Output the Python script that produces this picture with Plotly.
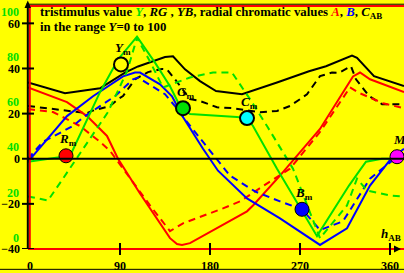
import plotly.graph_objects as go

# ---------------- data (hue angle h_AB in degrees, value) ----------------
cab_solid_h = [-2, 35, 70, 95, 108, 135, 143, 155, 170, 186, 212, 222, 247, 279, 296, 322, 327, 344, 374]
cab_solid_v = [33.8, 29.0, 31.2, 38.2, 40.9, 45.1, 45.4, 39.6, 34.4, 30.0, 28.6, 30.0, 33.8, 38.8, 41.0, 45.7, 44.7, 36.6, 32.2]

cab_dash_h = [-2, 35, 57, 62, 80, 88, 93, 105, 118, 132, 137, 145, 160, 170, 187, 203, 210, 230, 247, 260, 270, 277, 290, 302, 309, 321, 326, 339, 352, 374]
cab_dash_v = [23.4, 21.2, 20.2, 21.2, 23.4, 26.4, 27.8, 35.2, 38.4, 39.8, 39.6, 35.2, 26.4, 25.6, 22.8, 22.4, 22.0, 20.6, 21.2, 23.4, 26.4, 28.6, 36.6, 38.2, 38.1, 41.0, 35.2, 27.8, 24.2, 24.2]

y_solid_h = [-2, 33, 42, 70, 88, 107, 125, 140, 150, 160, 207, 217, 223, 247, 287, 319, 331, 336, 352, 374]
y_solid_v = [-1.3, 0.9, 3.1, 29.5, 44.0, 54.1, 42.6, 32.1, 23.3, 19.8, 18.5, 18.0, 14.5, -4.4, -34.3, -11.9, -4.4, -1.3, 0.0, 0.0]

y_dash_h = [-2, 18, 33, 55, 78, 97, 107, 120, 133, 160, 183, 202, 220, 237, 263, 290, 317, 327, 337, 360, 374]
y_dash_v = [-16.7, -18.5, -8.8, 5.7, 20.7, 38.7, 53.6, 43.1, 31.6, 36.0, 38.2, 38.2, 26.4, 14.5, -4.4, -35.2, -20.7, -8.8, -14.1, -16.3, -16.7]

a_solid_h = [-2, 37, 57, 77, 88, 110, 140, 147, 152, 160, 217, 223, 250, 290, 323, 330, 340, 374]
a_solid_v = [31.6, 25.1, 18.9, 10.1, 0.0, -15.4, -35.2, -37.8, -38.2, -37.4, -23.3, -20.7, -7.5, 13.2, 36.5, 38.2, 35.2, 29.5]

a_dash_h = [-2, 23, 50, 70, 80, 120, 140, 153, 193, 210, 240, 260, 290, 320, 330, 353, 374]
a_dash_v = [22.0, 20.7, 14.5, 7.5, 3.5, -20.7, -32.1, -28.6, -22.0, -18.9, -10.1, -4.4, 11.9, 31.6, 29.0, 24.6, 22.4]

b_solid_h = [-2, 3, 37, 63, 93, 105, 110, 130, 142, 153, 173, 188, 217, 250, 290, 317, 340, 353, 361, 374]
b_solid_v = [-0.9, 1.3, 18.9, 27.7, 36.5, 38.2, 38.2, 33.0, 27.7, 18.5, 4.4, -5.3, -17.6, -26.4, -38.2, -30.8, -11.9, -4.4, 0.0, 4.4]

b_dash_h = [-2, 13, 43, 55, 85, 103, 108, 135, 145, 153, 200, 225, 250, 272, 290, 313, 340, 353, 361, 374]
b_dash_v = [0.0, 7.5, 14.5, 18.9, 27.7, 35.2, 36.0, 28.6, 23.3, 18.5, -7.5, -14.5, -18.9, -22.4, -31.6, -27.7, -8.8, -4.4, -1.3, 2.2]

marker_names = ["R", "Y", "G", "C", "B", "M"]
marker_h = [36, 91, 153, 217, 272, 367]
marker_v = [1.3, 41.8, 22.4, 18.0, -22.4, 0.9]
marker_fill = ["#ff0000", "#ffff00", "#00e000", "#00ffff", "#0000ff", "#ff00ff"]
marker_edge = [1, 2, 2, 2, 1, 1]

x_ticks = [0, 90, 180, 270, 360]
y_ticks = [-40, -20, 0, 20, 40, 60]
y_ticktext = ["\u221240", "\u221220", "0", "20", "40", "60"]
green_ticks = [0, 20, 40, 60, 80, 100]
green_offset = -35.0

# ---------------- figure ----------------
W, H = 404, 273
ML, MR, MT, MB = 28, 0, 6, 22
PW, PH = W - ML - MR, H - MT - MB
FONT = "Liberation Serif"
GREEN = "#00e000"

def px(x):
    return (x - ML) / PW

def py(y):
    return (H - MB - y) / PH

fig = go.Figure()

curves = [
    (cab_solid_h, cab_solid_v, "black", "solid"),
    (cab_dash_h, cab_dash_v, "black", "7px,5px"),
    (a_solid_h, a_solid_v, "#ff0000", "solid"),
    (a_dash_h, a_dash_v, "#ff0000", "7px,5px"),
    (b_solid_h, b_solid_v, "#0000ff", "solid"),
    (b_dash_h, b_dash_v, "#0000ff", "7px,5px"),
    (y_solid_h, y_solid_v, GREEN, "solid"),
    (y_dash_h, y_dash_v, GREEN, "7px,5px"),
]
for hh, vv, col, dash in curves:
    fig.add_trace(go.Scatter(x=hh, y=vv, mode="lines",
                             line=dict(color=col, width=2, dash=dash),
                             hoverinfo="skip", showlegend=False))

fig.add_trace(go.Scatter(
    x=marker_h, y=marker_v, mode="markers",
    marker=dict(size=14, color=marker_fill,
                line=dict(color="black", width=marker_edge)),
    showlegend=False, hoverinfo="skip", cliponaxis=False))

shapes = []
shapes.append(dict(type="line", xref="paper", yref="y", x0=0, x1=1, y0=0, y1=0,
                   line=dict(color="black", width=2)))
shapes.append(dict(type="line", xref="paper", yref="paper", x0=px(29.8), x1=px(29.8),
                   y0=0, y1=1, line=dict(color="#ff0000", width=2)))
shapes.append(dict(type="line", xref="paper", yref="paper", x0=0, x1=1, y0=0, y1=0,
                   line=dict(color="#ff0000", width=2)))
shapes.append(dict(type="line", xref="paper", yref="paper", x0=px(28), x1=1,
                   y0=py(4.2), y1=py(4.2), line=dict(color="black", width=1)))
shapes.append(dict(type="line", xref="paper", yref="paper", x0=px(28), x1=1,
                   y0=1, y1=1, line=dict(color="#ff0000", width=2)))
shapes.append(dict(type="line", xref="paper", yref="paper", x0=px(27.8), x1=px(27.8),
                   y0=0, y1=py(3), line=dict(color="black", width=2)))
shapes.append(dict(type="path", xref="paper", yref="paper",
                   path=f"M {px(24.5)} {py(8)} L {px(27.8)} {py(0.5)} L {px(31)} {py(8)} Z",
                   fillcolor="black", line=dict(width=0)))
shapes.append(dict(type="path", xref="paper", yref="paper",
                   path=f"M {px(394)} {py(247.5)} L {px(401)} {py(251)} L {px(394)} {py(254.5)} Z",
                   fillcolor="black", line=dict(width=0)))
shapes.append(dict(type="line", xref="paper", yref="paper", x0=px(0), x1=1,
                   y0=py(271.5), y1=py(271.5), line=dict(color="black", width=1)))
for t in y_ticks:
    shapes.append(dict(type="line", xref="paper", yref="y", x0=px(22), x1=px(34),
                       y0=t, y1=t, line=dict(color="black", width=2)))
for t in x_ticks[1:]:
    shapes.append(dict(type="line", xref="x", yref="paper", x0=t, x1=t,
                       y0=py(245), y1=py(257), line=dict(color="black", width=2)))

annotations = []
annotations.append(dict(
    xref="paper", yref="paper", x=px(38), y=py(13), xanchor="left", yanchor="middle",
    showarrow=False, font=dict(family=FONT, size=12.8, color="black"),
    text=("<b>tristimulus value <i><span style='color:" + GREEN + "'>Y</span></i>, "
          "<i>RG</i> , <i>YB</i>, radial chromatic values "
          "<i><span style='color:#ff0000'>A</span></i>, "
          "<i><span style='color:#0000ff'>B</span></i>, <i>C</i><sub>AB</sub></b>")))
annotations.append(dict(
    xref="paper", yref="paper", x=px(38), y=py(27), xanchor="left", yanchor="middle",
    showarrow=False, font=dict(family=FONT, size=12.8, color="black"),
    text="<b>in the range <i>Y</i>=0 to 100</b>"))
for g in green_ticks:
    annotations.append(dict(
        xref="paper", yref="y", x=px(21), y=g + green_offset, xanchor="right",
        yanchor="middle", showarrow=False,
        font=dict(family=FONT, size=12, color=GREEN), text=f"<b>{g}</b>"))
for n, hh, vv in zip(marker_names, marker_h, marker_v):
    annotations.append(dict(
        xref="x", yref="y", x=hh, y=vv, xanchor="center", yanchor="middle",
        yshift=16, xshift=2 if n != "M" else 6, showarrow=False,
        font=dict(family=FONT, size=13, color="black"),
        text=f"<b><i>{n}</i><sub>m</sub></b>"))
annotations.append(dict(
    xref="paper", yref="paper", x=px(391), y=py(236), xanchor="center", yanchor="middle",
    showarrow=False, font=dict(family=FONT, size=13, color="black"),
    text="<b><i>h</i><sub>AB</sub></b>"))

fig.update_layout(
    width=W, height=H,
    margin=dict(l=ML, r=MR, t=MT, b=MB, pad=0),
    paper_bgcolor="#ffff00", plot_bgcolor="#ffff00",
    showlegend=False,
    xaxis=dict(range=[-2, 374], showgrid=False, zeroline=False, showline=False,
               tickvals=x_ticks, ticktext=[f"<b>{t}</b>" for t in x_ticks],
               ticks="", ticklabelstandoff=8,
               tickfont=dict(family=FONT, size=12, color="black")),
    yaxis=dict(range=[-40, 67.69], showgrid=False, zeroline=False, showline=False,
               tickvals=y_ticks, ticktext=[f"<b>{t}</b>" for t in y_ticktext],
               ticks="", ticklabelstandoff=7,
               tickfont=dict(family=FONT, size=12, color="black")),
    shapes=shapes, annotations=annotations,
)

fig.write_html("out.html", config={"displayModeBar": False},
               post_script="document.body.style.margin='0';document.body.style.overflow='hidden';")
